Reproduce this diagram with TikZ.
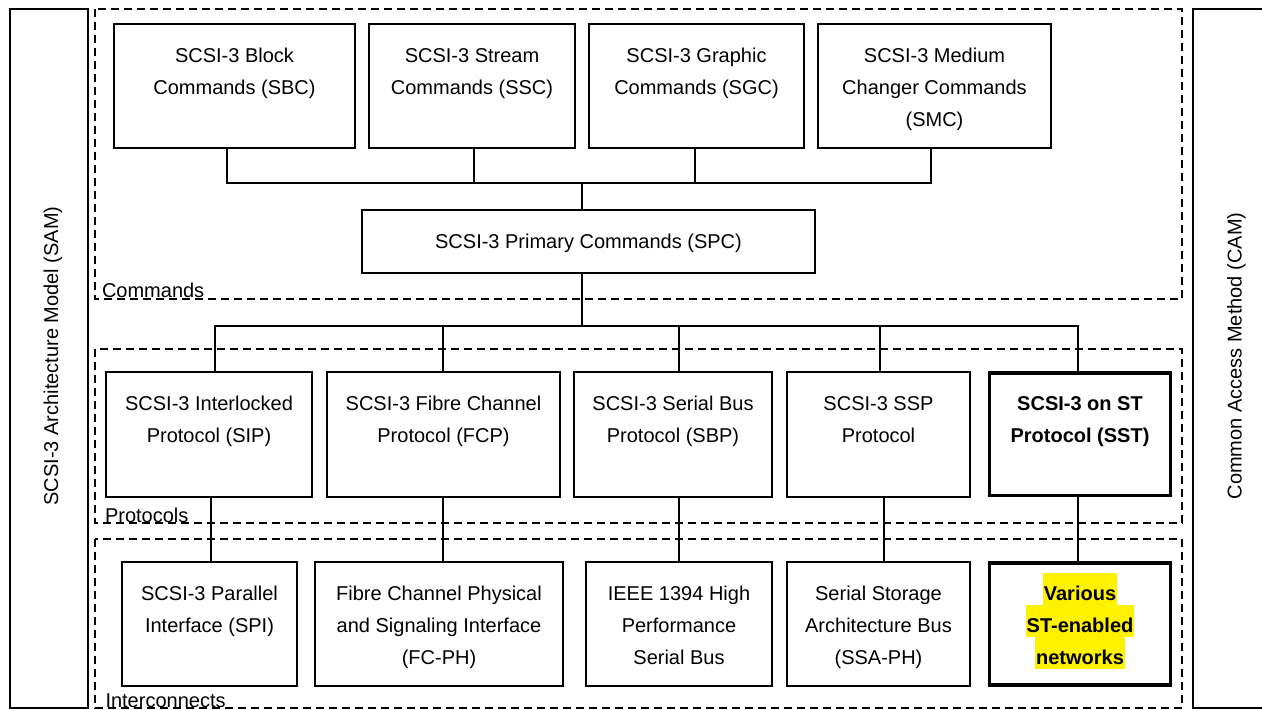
\documentclass[tikz,border=0pt]{standalone}
\usepackage{fontspec}
\setmainfont{Liberation Sans}
% strut that fixes the height of the first text line in a block
\newcommand{\firstline}{\rule{0pt}{15pt}}
\tikzset{
  every node/.style={inner sep=0pt, outer sep=0pt},
  stdbox/.style={draw, rectangle, line width=1.3pt},
  keybox/.style={draw, rectangle, line width=3.3pt},
  boxtext/.style={anchor=north, align=center, font=\fontsize{20}{32}\selectfont},
  wire/.style={line width=1.3pt},
  layer/.style={line width=1.4pt, dash pattern=on 8pt off 5pt},
  layerlabel/.style={anchor=base west, font=\fontsize{20}{24}\selectfont},
  sidetext/.style={anchor=base, rotate=90, font=\fontsize{20}{24}\selectfont},
  hilite/.style={anchor=base, fill=yellow, inner xsep=1pt, text height=28pt, text depth=4pt,
                 font=\fontsize{20}{24}\selectfont\bfseries},
}
\begin{document}
\begin{tikzpicture}[x=1pt, y=-1pt]
\useasboundingbox (0,0) rectangle (1262,710);

% ---- side columns ----
\node[stdbox, minimum width=78, minimum height=699] (sam) at (49,358.5) {};
\node[sidetext] (samt) at (58,356) {SCSI-3 Architecture Model (SAM)};
\node[minimum width=69.5, minimum height=699] (cam) at (1227.75,358.5) {};
\draw[line width=1.3pt] (cam.north east) -- (cam.north west) -- (cam.south west) -- (cam.south east);
\node[sidetext] (camt) at (1241.5,356) {Common Access Method (CAM)};

% ---- layer frames ----
\draw[layer] (95,9) rectangle (1182,299);
\draw[layer] (95,349) rectangle (1182,523);
\draw[layer] (95,539) rectangle (1182,708);
\node[layerlabel] (lcmd) at (102,297) {Commands};
\node[layerlabel] (lprot) at (105,522) {Protocols};
\node[layerlabel] (lint) at (105.5,707) {Interconnects};

% ---- command sets ----
\node[stdbox, minimum width=241, minimum height=124] (sbc) at (234.5,86) {};
\node[stdbox, minimum width=206, minimum height=124] (ssc) at (472,86) {};
\node[stdbox, minimum width=215, minimum height=124] (sgc) at (696.5,86) {};
\node[stdbox, minimum width=233, minimum height=124] (smc) at (934.5,86) {};
\node[boxtext] (sbct) at ([yshift=-23.5]sbc.north) {\firstline SCSI-3 Block\\Commands (SBC)};
\node[boxtext] (ssct) at ([yshift=-23.5]ssc.north) {\firstline SCSI-3 Stream\\Commands (SSC)};
\node[boxtext] (sgct) at ([yshift=-23.5]sgc.north) {\firstline SCSI-3 Graphic\\Commands (SGC)};
\node[boxtext] (smct) at ([yshift=-23.5]smc.north) {\firstline SCSI-3 Medium\\Changer Commands\\(SMC)};

\node[stdbox, minimum width=453, minimum height=63] (spc) at (588.5,241.5) {};
\node[boxtext] (spct) at ([yshift=-23.5]spc.north) {\firstline SCSI-3 Primary Commands (SPC)};

% ---- protocols ----
\node[stdbox, minimum width=206, minimum height=125] (sip) at (209,434.5) {};
\node[stdbox, minimum width=233, minimum height=125] (fcp) at (443.5,434.5) {};
\node[stdbox, minimum width=198, minimum height=125] (sbp) at (673,434.5) {};
\node[stdbox, minimum width=183, minimum height=125] (ssp) at (878.5,434.5) {};
\node[keybox, minimum width=181, minimum height=122.5] (sst) at (1080,434.25) {};
\node[boxtext] (sipt) at ([yshift=-23.5]sip.north) {\firstline SCSI-3 Interlocked\\Protocol (SIP)};
\node[boxtext] (fcpt) at ([yshift=-23.5]fcp.north) {\firstline SCSI-3 Fibre Channel\\Protocol (FCP)};
\node[boxtext] (sbpt) at ([yshift=-23.5]sbp.north) {\firstline SCSI-3 Serial Bus\\Protocol (SBP)};
\node[boxtext] (sspt) at ([yshift=-23.5]ssp.north) {\firstline SCSI-3 SSP\\Protocol};
\node[boxtext, font=\fontsize{20}{32}\selectfont\bfseries] (sstt) at ([yshift=-22.5]sst.north) {\firstline SCSI-3 on ST\\Protocol (SST)};

% ---- interconnects ----
\node[stdbox, minimum width=175, minimum height=124] (spi) at (209.5,624) {};
\node[stdbox, minimum width=248, minimum height=124] (fcph) at (439,624) {};
\node[stdbox, minimum width=186, minimum height=124] (ieee) at (679,624) {};
\node[stdbox, minimum width=183, minimum height=124] (ssa) at (878.5,624) {};
\node[keybox, minimum width=181, minimum height=122] (net) at (1080,624) {};
\node[boxtext] (spit) at ([yshift=-23.5]spi.north) {\firstline SCSI-3 Parallel\\Interface (SPI)};
\node[boxtext] (fcpht) at ([yshift=-23.5]fcph.north) {\firstline Fibre Channel Physical\\and Signaling Interface\\(FC-PH)};
\node[boxtext] (ieeet) at ([yshift=-23.5]ieee.north) {\firstline IEEE 1394 High\\Performance\\Serial Bus};
\node[boxtext] (ssat) at ([yshift=-23.5]ssa.north) {\firstline Serial Storage\\Architecture Bus\\(SSA-PH)};
\node[hilite] (net1) at (1080,600.5) {Various};
\node[hilite] (net2) at (1080,632.5) {ST-enabled};
\node[hilite] (net3) at (1080,664.5) {networks};

% ---- connectors: command sets to primary commands ----
\coordinate (cbus) at (582,183);
\draw[wire] ([xshift=-7.5]sbc.south) |- (cbus);
\draw[wire] ([xshift=-3.5]smc.south) |- (cbus);
\draw[wire] ([xshift=2]ssc.south) -- ++(0,35);
\draw[wire] ([xshift=-1.5]sgc.south) -- ++(0,35);
\draw[wire] (cbus) -- ([xshift=-6.5]spc.north);

% ---- connectors: primary commands to protocols ----
\coordinate (pbus) at (582,326);
\draw[wire] ([xshift=-6.5]spc.south) -- (pbus);
\draw[wire] ([xshift=6]sip.north) |- (pbus);
\draw[wire] ([xshift=-2]sst.north) |- (pbus);
\draw[wire] ([xshift=-0.5]fcp.north) -- ++(0,-46);
\draw[wire] ([xshift=6]sbp.north) -- ++(0,-46);
\draw[wire] ([xshift=1.5]ssp.north) -- ++(0,-46);

% ---- connectors: protocols to interconnects ----
\draw[wire] ([xshift=2]sip.south) -- ([xshift=1.5]spi.north);
\draw[wire] ([xshift=-0.5]fcp.south) -- ([xshift=4]fcph.north);
\draw[wire] ([xshift=6]sbp.south) -- (ieee.north);
\draw[wire] ([xshift=5.5]ssp.south) -- ([xshift=5.5]ssa.north);
\draw[wire] ([xshift=-2]sst.south) -- ([xshift=-2]net.north);
\end{tikzpicture}
\end{document}
